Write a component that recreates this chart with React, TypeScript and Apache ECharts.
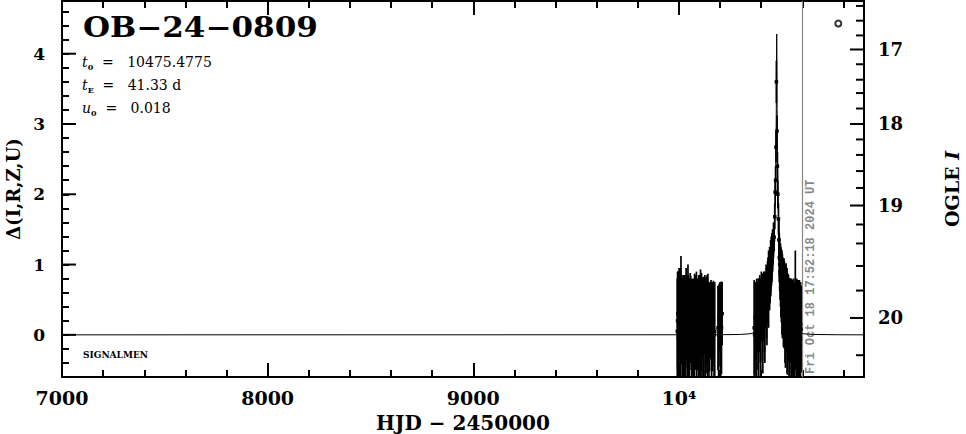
import React, { useEffect, useRef } from "react";
import * as echarts from "echarts";

// ---- axis ranges & ticks ----
const X_MIN = 7000;
const X_MAX = 10900;
const Y_MIN = -0.6;
const Y_MAX = 4.75;
const yMajorTicks = [0, 1, 2, 3, 4];

// right axis (OGLE I) tick positions in Δ units
const rightMajorMags = ["17", "18", "19", "20"];
const rightMajorDelta = [4.06, 3.0, 1.84, 0.24];
const rightMinorDelta = [4.68, 4.47, 4.26, 3.85, 3.63, 3.44, 3.22, 2.78, 2.56, 2.33, 2.09, 1.57, 1.3, 0.98, 0.63, -0.29];

// ---- observations: HJD-2450000, Δ, error ----
const obsHJD = [
  9992, 9995, 9999, 10003, 10006, 10010, 10014, 10018, 10022, 10027, 10031, 10035, 10040, 10044, 10048, 10053, 10057, 10062, 10066, 10071, 10076, 10082, 10087,
  10092, 10096, 10101, 10105, 10110, 10114, 10119, 10123, 10128, 10132, 10137, 10141, 10146, 10151, 10156, 10162, 10168, 10174,
  10190, 10196, 10203, 10210,
  10366, 10370, 10375, 10380, 10385, 10390, 10396, 10401, 10406, 10411, 10416, 10421, 10426, 10431, 10436, 10441, 10446, 10452, 10458,
  10463, 10466, 10468, 10470, 10472, 10474, 10477, 10479, 10481, 10484,
  10488, 10492, 10496, 10501, 10506, 10511, 10516, 10521, 10526, 10531, 10536, 10541, 10546, 10551, 10556, 10561, 10566, 10571, 10576, 10581, 10586, 10591, 10594,
  9993.5, 9997, 10001, 10008, 10012, 10016, 10020, 10025, 10029, 10033, 10038, 10042, 10046, 10051, 10055, 10060, 10064, 10069, 10074, 10079, 10085,
  10094, 10099, 10103, 10108, 10112, 10117, 10121, 10126, 10130, 10135, 10139, 10144, 10149, 10154, 10159, 10165, 10171,
  10193, 10200, 10207,
  10368, 10373, 10378, 10383, 10388, 10393, 10398, 10403, 10408, 10413, 10418, 10424, 10428, 10433, 10438, 10443, 10449, 10455, 10460,
  10486, 10490, 10494, 10498, 10503, 10508, 10513, 10518, 10523, 10528, 10533, 10538, 10543, 10548, 10553, 10558, 10563, 10568, 10573, 10578, 10583, 10588, 10592,
];
const obsDelta = [
  0.05, 0.3, 0.1, 0.25, -0.05, 0.35, 0.15, 0.2, -0.1, 0.28, 0.05, 0.4, 0.12, 0.3, -0.02, 0.18, 0.22, 0.0, 0.3, 0.1, 0.25, 0.05, 0.2,
  0.15, 0.3, 0.05, 0.35, 0.18, 0.4, 0.1, 0.28, 0.0, 0.32, 0.15, 0.25, -0.05, 0.2, 0.3, 0.1, 0.22, 0.05,
  0.1, 0.25, 0.05, 0.3,
  0.1, 0.25, 0.05, 0.3, 0.15, 0.35, 0.2, 0.4, 0.25, 0.45, 0.3, 0.5, 0.45, 0.6, 0.65, 0.8, 0.95, 1.1, 1.25,
  1.39, 1.68, 2.03, 2.2, 2.67, 3.6, 2.9, 2.4, 2.0, 1.65,
  1.1, 0.9, 0.75, 0.6, 0.55, 0.45, 0.3, 0.4, 0.2, 0.25, 0.1, 0.2, 0.05, 0.15, 0.0, 0.12, 0.4, 0.05, 0.18, 0.0, 0.1, -0.05, 0.08,
  0.2, -0.05, 0.3, 0.15, 0.4, 0.0, 0.35, 0.1, 0.2, -0.05, 0.25, 0.05, 0.35, 0.1, 0.28, 0.15, -0.05, 0.2, 0.05, 0.3, 0.1,
  0.05, 0.25, 0.1, 0.3, 0.0, 0.25, 0.08, 0.3, 0.12, 0.2, 0.05, 0.3, 0.1, 0.2, 0.05, 0.15, 0.0,
  0.0, 0.15, 0.1,
  0.0, 0.2, 0.1, 0.25, 0.05, 0.3, 0.1, 0.35, 0.15, 0.4, 0.25, 0.55, 0.4, 0.65, 0.75, 0.85, 1.05, 1.2, 1.35,
  1.35, 1.0, 0.85, 0.7, 0.55, 0.45, 0.5, 0.25, 0.35, 0.15, 0.3, 0.05, 0.25, 0.1, 0.0, 0.2, 0.05, 0.15, 0.25, 0.0, 0.2, 0.05, 0.15,
];
const obsErr = [
  0.75, 0.6, 0.8, 0.55, 0.8, 0.77, 0.55, 0.6, 0.8, 0.52, 0.7, 0.55, 0.6, 0.7, 0.7, 0.5, 0.62, 0.65, 0.5, 0.7, 0.62, 0.55, 0.5,
  0.65, 0.55, 0.75, 0.58, 0.7, 0.42, 0.72, 0.55, 0.8, 0.5, 0.7, 0.62, 0.75, 0.55, 0.48, 0.62, 0.55, 0.7,
  0.6, 0.48, 0.65, 0.45,
  0.68, 0.45, 0.65, 0.4, 0.65, 0.45, 0.6, 0.5, 0.62, 0.43, 0.55, 0.38, 0.5, 0.45, 0.55, 0.45, 0.4, 0.35, 0.25,
  0.2, 0.18, 0.18, 0.2, 0.22, 0.3, 0.22, 0.2, 0.2, 0.22,
  0.35, 0.4, 0.5, 0.6, 0.55, 0.64, 0.7, 0.62, 0.75, 0.62, 0.71, 0.6, 0.74, 0.6, 0.75, 0.62, 0.8, 0.7, 0.6, 0.72, 0.68, 0.7, 0.62,
  0.7, 0.85, 0.65, 0.8, 0.45, 0.75, 0.5, 0.75, 0.65, 0.75, 0.6, 0.8, 0.5, 0.7, 0.6, 0.65, 0.8, 0.55, 0.72, 0.55, 0.8,
  0.75, 0.6, 0.7, 0.5, 0.8, 0.55, 0.7, 0.55, 0.65, 0.6, 0.75, 0.45, 0.62, 0.52, 0.7, 0.6, 0.65,
  0.7, 0.6, 0.66,
  0.75, 0.55, 0.7, 0.5, 0.7, 0.55, 0.7, 0.45, 0.7, 0.5, 0.65, 0.45, 0.55, 0.45, 0.4, 0.4, 0.35, 0.3, 0.25,
  0.3, 0.38, 0.45, 0.52, 0.6, 0.62, 0.55, 0.72, 0.6, 0.72, 0.55, 0.75, 0.55, 0.7, 0.78, 0.6, 0.7, 0.65, 0.55, 0.75, 0.58, 0.66, 0.6,
];

// ---- model curve ----
const modelHJD = [
  7000, 10175.5, 10295.5, 10345.5, 10375.5, 10395.5, 10415.5, 10425.5, 10435.5, 10445.5, 10450.5, 10455.5, 10460.5, 10465.5, 10468.5,
  10470.5, 10471.5, 10472.5, 10473.5, 10474, 10474.5, 10475, 10475.5, 10476, 10476.5, 10477, 10477.5, 10478.5, 10479.5, 10480.5,
  10482.5, 10485.5, 10490.5, 10495.5, 10500.5, 10505.5, 10515.5, 10525.5, 10535.5, 10555.5, 10575.5, 10605.5, 10655.5, 10775.5, 10900,
];
const modelDelta = [
  0, 0.001, 0.005, 0.015, 0.036, 0.07, 0.146, 0.22, 0.34, 0.53, 0.68, 0.88, 1.15, 1.56, 1.93,
  2.29, 2.52, 2.82, 3.22, 3.48, 3.8, 4.1, 4.28, 4.1, 3.8, 3.48, 3.22, 2.82, 2.52, 2.29,
  1.93, 1.56, 1.15, 0.88, 0.68, 0.53, 0.34, 0.22, 0.146, 0.07, 0.036, 0.015, 0.005, 0.001, 0,
];

// current date marker
const nowHJD = [10601];
const nowLabel = "Fri Oct 18 17:52:18 2024 UT";
// extra symbol at top right
const extraPoint = [[10775, 4.43]];

const titleText = "OB\u221224\u22120809";
const paramLines = [
  "{it|t}{sub|0}{n|  =   10475.4775}",
  "{it|t}{sub|E}{n|  =   41.33 d}",
  "{it|u}{sub|0}{n|  =   0.018}",
];

const SERIF = "DejaVu Serif";

export default function App() {
  const ref = useRef<HTMLDivElement>(null);

  useEffect(() => {
    document.body.style.margin = "0";
    const chart = echarts.init(ref.current!, undefined, { renderer: "svg" });

    const labelStyle = { fontFamily: SERIF, fontWeight: "bold" as const, color: "#000" };
    const richParam = {
      it: { fontFamily: SERIF, fontStyle: "italic", fontSize: 14, fill: "#000", color: "#000", verticalAlign: "middle", lineHeight: 18 },
      n: { fontFamily: SERIF, fontSize: 14, fill: "#000", color: "#000", verticalAlign: "middle", lineHeight: 18 },
      sub: { fontFamily: SERIF, fontSize: 8, fontWeight: "bold", fill: "#000", color: "#000", verticalAlign: "bottom", lineHeight: 8 },
    };
    const tickLine = (x1: number, y1: number, x2: number, y2: number) => ({
      type: "line", shape: { x1, y1, x2, y2 }, style: { stroke: "#000", lineWidth: 2 },
    });

    const option: any = {
      animation: false,
      grid: { left: 62, right: 102, top: 1, bottom: 57, outerBoundsMode: "none" },
      xAxis: [
        {
          type: "value", position: "bottom", min: X_MIN, max: X_MAX, interval: 1000,
          axisLine: { show: true, onZero: false, lineStyle: { color: "#000", width: 2 } },
          axisTick: { show: true, inside: true, length: 14, lineStyle: { color: "#000", width: 2 } },
          axisLabel: {
            show: true, margin: 11, fontSize: 19, ...labelStyle, showMaxLabel: false,
            formatter: (v: number) => (v === 10000 ? "10\u2074" : v % 1000 === 0 && v < 10000 ? String(v) : ""),
          },
          splitLine: { show: false },
          name: "HJD \u2212 2450000", nameLocation: "middle", nameGap: 36,
          nameTextStyle: { fontSize: 20, ...labelStyle },
        },
        {
          type: "value", position: "bottom", min: X_MIN, max: X_MAX, interval: 200,
          axisLine: { show: false, onZero: false },
          axisTick: { show: true, inside: true, length: 7, lineStyle: { color: "#000", width: 2 } },
          axisLabel: { show: false }, splitLine: { show: false },
        },
        {
          type: "value", position: "top", min: X_MIN, max: X_MAX, interval: 1000,
          axisLine: { show: true, onZero: false, lineStyle: { color: "#000", width: 2 } },
          axisTick: { show: true, inside: true, length: 14, lineStyle: { color: "#000", width: 2 } },
          axisLabel: { show: false }, splitLine: { show: false },
        },
        {
          type: "value", position: "top", min: X_MIN, max: X_MAX, interval: 200,
          axisLine: { show: false, onZero: false },
          axisTick: { show: true, inside: true, length: 7, lineStyle: { color: "#000", width: 2 } },
          axisLabel: { show: false }, splitLine: { show: false },
        },
      ],
      yAxis: [
        {
          type: "value", position: "left", min: Y_MIN, max: Y_MAX, interval: 0.2,
          axisLine: { show: true, onZero: false, lineStyle: { color: "#000", width: 2 } },
          axisTick: { show: true, inside: true, length: 7, lineStyle: { color: "#000", width: 2 } },
          axisLabel: {
            show: true, margin: 17, fontSize: 17, ...labelStyle, showMaxLabel: false, showMinLabel: false,
            formatter: (v: number) => (Math.abs(v - Math.round(v)) < 1e-6 ? String(Math.round(v)) : ""),
          },
          splitLine: { show: false },
          name: "\u0394(I,R,Z,U)", nameLocation: "middle", nameRotate: 90, nameGap: 40,
          nameTextStyle: { fontSize: 18, ...labelStyle },
        },
        {
          type: "value", position: "right", min: Y_MIN, max: Y_MAX,
          axisLine: { show: true, onZero: false, lineStyle: { color: "#000", width: 2 } },
          axisTick: { show: false }, axisLabel: { show: false }, splitLine: { show: false },
          name: "{n|OGLE }{it|I}", nameLocation: "middle", nameRotate: 90, nameGap: 78,
          nameTextStyle: {
            fontSize: 19, ...labelStyle,
            rich: {
              n: { fontSize: 19, fontFamily: SERIF, fontWeight: "bold", color: "#000" },
              it: { fontSize: 19, fontFamily: SERIF, fontWeight: "bold", fontStyle: "italic", color: "#000" },
            },
          },
        },
      ],
      series: [
        {
          name: "model", type: "line", xAxisIndex: 0, yAxisIndex: 0,
          data: modelHJD.map((x, i) => [x, modelDelta[i]]),
          showSymbol: false, symbol: "none", lineStyle: { color: "#000", width: 1 }, z: 3,
        },
        {
          name: "obs", type: "custom", xAxisIndex: 0, yAxisIndex: 0,
          encode: { x: 0, y: 1 },
          data: obsHJD.map((x, i) => [x, obsDelta[i], obsErr[i]]),
          renderItem: (params: any, api: any) => {
            const x = api.value(0), y = api.value(1), e = api.value(2);
            const lo = Math.max(y - e, Y_MIN), hi = Math.min(y + e, Y_MAX);
            const pLo = api.coord([x, lo]), pHi = api.coord([x, hi]), p = api.coord([x, y]);
            return {
              type: "group",
              children: [
                { type: "line", shape: { x1: pLo[0], y1: pLo[1], x2: pHi[0], y2: pHi[1] }, style: { stroke: "#000", lineWidth: 1.7 } },
                { type: "rect", shape: { x: p[0] - 1.75, y: p[1] - 1.75, width: 3.5, height: 3.5 }, style: { fill: "#000" } },
              ],
            };
          },
          z: 4,
        },
        {
          name: "extra", type: "scatter", xAxisIndex: 0, yAxisIndex: 0, data: extraPoint,
          symbol: "circle", symbolSize: 6, itemStyle: { color: "#fff", borderColor: "#000", borderWidth: 2 }, z: 5,
        },
        {
          name: "leftMajor", type: "custom", xAxisIndex: 0, yAxisIndex: 0, encode: { x: 0, y: 1 },
          data: yMajorTicks.map((v) => [X_MIN, v]),
          renderItem: (params: any, api: any) => {
            const p = api.coord([api.value(0), api.value(1)]);
            return { type: "group", children: [tickLine(p[0], p[1], p[0] + 14, p[1])] };
          },
          z: 6,
        },
        {
          name: "rightTicks", type: "custom", xAxisIndex: 0, yAxisIndex: 0, encode: { x: 0, y: 1 },
          data: [
            ...rightMajorDelta.map((v, i) => [X_MAX, v, 1, i]),
            ...rightMinorDelta.map((v) => [X_MAX, v, 0, -1]),
          ],
          renderItem: (params: any, api: any) => {
            const p = api.coord([api.value(0), api.value(1)]);
            const major = api.value(2) === 1;
            const len = major ? 14 : 8;
            const children: any[] = [tickLine(p[0] - len, p[1], p[0], p[1])];
            if (major) {
              children.push({
                type: "text", x: p[0] + 14, y: p[1],
                style: {
                  text: rightMajorMags[api.value(3)], fill: "#000", fontSize: 18, fontFamily: SERIF, fontWeight: "bold",
                  align: "left", verticalAlign: "middle",
                },
              });
            }
            return { type: "group", children };
          },
          z: 6,
        },
        {
          name: "now", type: "custom", xAxisIndex: 0, yAxisIndex: 0, encode: { x: 0, y: 1 },
          data: nowHJD.map((x) => [x, Y_MIN]),
          renderItem: (params: any, api: any) => {
            const pB = api.coord([api.value(0), Y_MIN]);
            const pT = api.coord([api.value(0), Y_MAX]);
            return {
              type: "group",
              children: [
                { type: "line", shape: { x1: pB[0], y1: pB[1], x2: pT[0], y2: pT[1] }, style: { stroke: "#888", lineWidth: 1.2 } },
                {
                  type: "text", x: pB[0] + 8, y: pB[1] - 3, rotation: Math.PI / 2,
                  style: {
                    text: nowLabel, fill: "#888", fontSize: 12, fontFamily: "Liberation Mono", fontWeight: "bold",
                    align: "left", verticalAlign: "middle",
                  },
                },
              ],
            };
          },
          z: 2,
        },
      ],
      graphic: [
        {
          type: "text", x: 83, y: 14, scaleX: 1.15,
          style: { text: titleText, fill: "#000", fontSize: 27, fontFamily: SERIF, fontWeight: "bold", verticalAlign: "top" },
        },
        ...paramLines.map((t, i) => ({
          type: "text", x: 82, y: 62 + i * 23,
          style: { text: t, rich: richParam, fill: "#000", verticalAlign: "middle" },
        })),
        {
          type: "text", x: 83, y: 355,
          style: { text: "SIGNALMEN", fill: "#000", fontSize: 9, fontFamily: SERIF, fontWeight: "bold", verticalAlign: "middle" },
        },
      ],
    };

    chart.setOption(option);
    return () => chart.dispose();
  }, []);

  return <div ref={ref} style={{ position: "absolute", left: 0, top: 0, width: 966, height: 434 }} />;
}
